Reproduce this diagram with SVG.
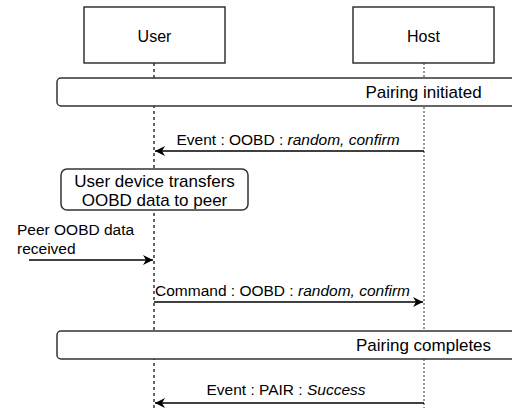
<svg xmlns="http://www.w3.org/2000/svg" width="512" height="408" viewBox="0 0 512 408">
<defs>
<marker id="arr" markerWidth="12" markerHeight="10" refX="10" refY="5" orient="auto" markerUnits="userSpaceOnUse">
<path d="M0,0 L10,5 L0,10 L3,5 Z" fill="#000"/>
</marker>
</defs>
<style>
text{font-family:"Liberation Sans",Arial,sans-serif;fill:#000}
.box{fill:#fff;stroke:#333;stroke-width:1.5}
.t16{font-size:16px}
.t17{font-size:17px}
.t15{font-size:15.5px}
.msg{stroke:#000;stroke-width:1.3;fill:none}
.it{font-style:italic}
</style>
<g id="lifelines">
<line x1="154" y1="63" x2="154" y2="408" stroke="#000" stroke-width="1.2" stroke-dasharray="3,3"/>
<line x1="424" y1="63" x2="424" y2="408" stroke="#777" stroke-width="1.5" stroke-dasharray="2,2"/>
</g>
<g id="user">
<rect class="box" x="84" y="7" width="141" height="56"/>
<text class="t16" x="154.5" y="42" text-anchor="middle">User</text>
</g>
<g id="host">
<rect class="box" x="353" y="7" width="141" height="56"/>
<text class="t16" x="423.5" y="42" text-anchor="middle">Host</text>
</g>
<g id="pairing-initiated">
<rect class="box" x="57" y="78" width="470" height="28" rx="4"/>
<text class="t17" x="423.5" y="98" text-anchor="middle">Pairing initiated</text>
</g>
<g id="transfer">
<rect class="box" x="61" y="169" width="187" height="41" rx="6"/>
<text class="t17" x="154.5" y="187" text-anchor="middle">User device transfers</text>
<text class="t17" x="154.5" y="206" text-anchor="middle">OOBD data to peer</text>
</g>
<g id="pairing-completes">
<rect class="box" x="57" y="331" width="470" height="28" rx="4"/>
<text class="t17" x="423.5" y="351" text-anchor="middle">Pairing completes</text>
</g>
<g id="connectors">
<line class="msg" x1="424" y1="151" x2="155" y2="151" marker-end="url(#arr)"/>
<text class="t15" x="288" y="145" text-anchor="middle">Event : OOBD : <tspan class="it">random, confirm</tspan></text>
<line class="msg" x1="29" y1="260" x2="153" y2="260" marker-end="url(#arr)"/>
<text class="t15" x="17" y="235">Peer OOBD data</text>
<text class="t15" x="17" y="254">received</text>
<line class="msg" x1="154" y1="302" x2="423" y2="302" marker-end="url(#arr)"/>
<text class="t15" x="155" y="296">Command : OOBD : <tspan class="it">random, confirm</tspan></text>
<line class="msg" x1="424" y1="403" x2="155" y2="403" marker-end="url(#arr)"/>
<text class="t15" x="286" y="395" text-anchor="middle">Event : PAIR : <tspan class="it">Success</tspan></text>
</g>
</svg>
